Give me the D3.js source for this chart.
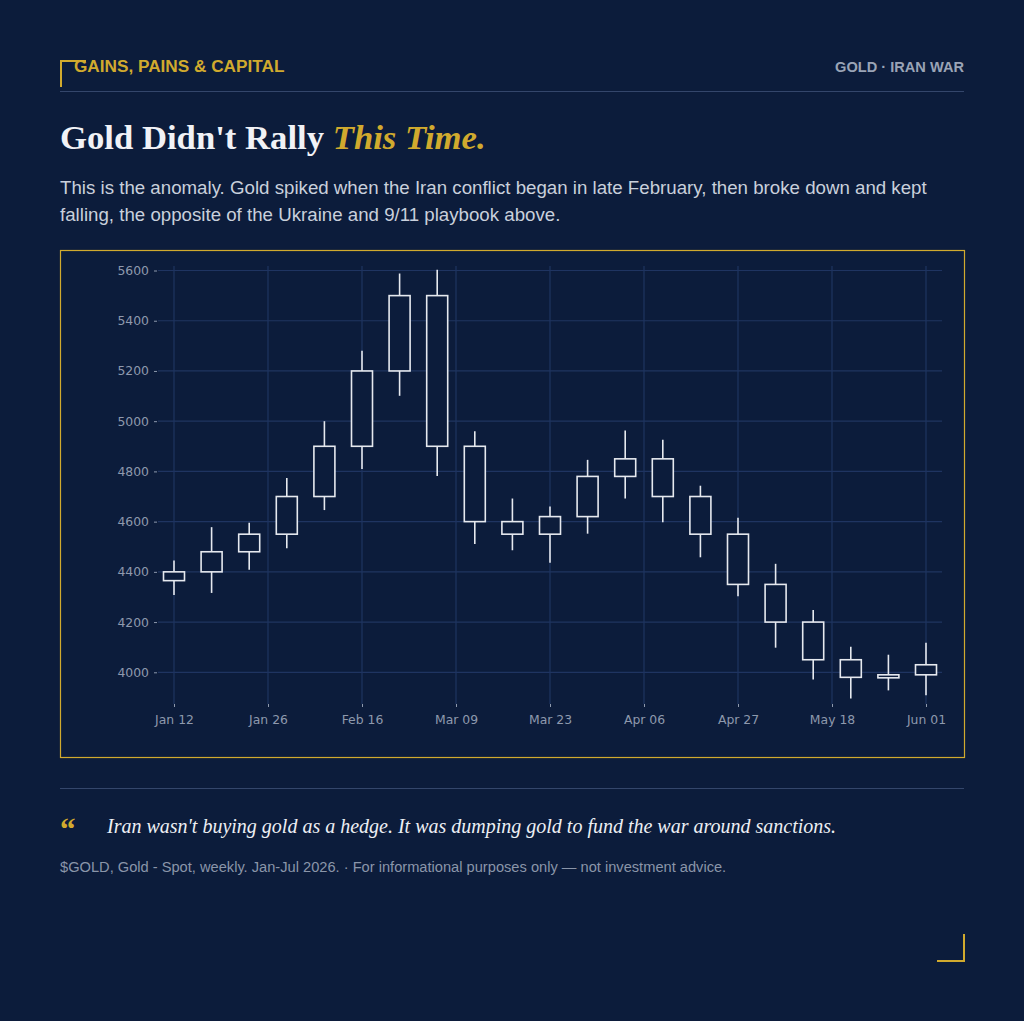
<!DOCTYPE html>
<html>
<head>
<meta charset="utf-8">
<script src="https://cdn.jsdelivr.net/npm/d3@7"></script>
<style>
  html, body { margin: 0; padding: 0; background: #0c1c3b; }
  svg { display: block; }
</style>
</head>
<body>
<svg id="chart" width="1024" height="1021"></svg>
<script>
// weekly candles, $GOLD spot
var opens  = [4365, 4400, 4480, 4550, 4700, 4900, 5200, 5500, 4900, 4600, 4550, 4620, 4780, 4850, 4700, 4550, 4350, 4200, 4050, 3978, 3990];
var closes = [4400, 4480, 4550, 4700, 4900, 5200, 5500, 4900, 4600, 4550, 4620, 4780, 4850, 4700, 4550, 4350, 4200, 4050, 3980, 3990, 4030];
var highs  = [4445, 4578, 4596, 4774, 5000, 5280, 5588, 5603, 4960, 4692, 4660, 4846, 4963, 4926, 4743, 4615, 4432, 4248, 4102, 4070, 4118];
var lows   = [4308, 4316, 4408, 4494, 4646, 4810, 5101, 4782, 4511, 4486, 4436, 4552, 4692, 4598, 4458, 4303, 4098, 3971, 3896, 3928, 3909];

var xTickPos    = [0, 2.5, 5, 7.5, 10, 12.5, 15, 17.5, 20];
var xTickLabels = ["Jan 12","Jan 26","Feb 16","Mar 09","Mar 23","Apr 06","Apr 27","May 18","Jun 01"];
var yTicks      = [4000, 4200, 4400, 4600, 4800, 5000, 5200, 5400, 5600];

var gold = "#d1aa2e", bg = "#0c1c3b", grid = "#1f3461", candle = "#e6e9ef";

var svg = d3.select("#chart");
svg.append("rect").attr("width", 1024).attr("height", 1021).attr("fill", bg);

// header
svg.append("path").attr("d", "M61,87V61H86").attr("fill", "none").attr("stroke", gold).attr("stroke-width", 2);
svg.append("text").attr("x", 74).attr("y", 72)
  .style("font", "bold 17.2px 'Liberation Sans', Arial, sans-serif").attr("fill", gold)
  .text("GAINS, PAINS & CAPITAL");
svg.append("text").attr("x", 964).attr("y", 72).attr("text-anchor", "end")
  .style("font", "bold 14.6px 'Liberation Sans', Arial, sans-serif").attr("fill", "#9aa4b6")
  .text("GOLD \u00b7 IRAN WAR");
svg.append("line").attr("x1", 60).attr("x2", 964).attr("y1", 91.5).attr("y2", 91.5)
  .attr("stroke", "#34466b").attr("stroke-width", 1);

// title
var title = svg.append("text").attr("x", 60).attr("y", 149)
  .style("font", "bold 34.7px 'Liberation Serif', 'Times New Roman', serif");
title.append("tspan").attr("fill", "#f1f2f6").text("Gold Didn't Rally ");
title.append("tspan").attr("fill", gold).style("font-style", "italic").text("This Time.");

var sub = ["This is the anomaly. Gold spiked when the Iran conflict began in late February, then broke down and kept",
           "falling, the opposite of the Ukraine and 9/11 playbook above."];
svg.selectAll("text.sub").data(sub).enter().append("text").attr("class", "sub")
  .attr("x", 60).attr("y", function(d, i){ return 194 + i * 27; })
  .style("font", "18.7px 'Liberation Sans', Arial, sans-serif").attr("fill", "#c9d0dc")
  .text(function(d){ return d; });

// chart frame
svg.append("rect").attr("x", 60.5).attr("y", 250.5).attr("width", 904).attr("height", 507)
  .attr("fill", "none").attr("stroke", gold).attr("stroke-width", 1.2);

var plotL = 158, plotR = 942, plotT = 266, plotB = 704;
var x = d3.scaleLinear().domain([0, 20]).range([174, 926]);
var y = d3.scaleLinear().domain([4000, 5600]).range([672.3, 270.5]);

var g = svg.append("g");
// gridlines
g.selectAll("line.hg").data(yTicks).enter().append("line").attr("class", "hg")
  .attr("x1", plotL).attr("x2", plotR)
  .attr("y1", function(d){ return y(d); }).attr("y2", function(d){ return y(d); })
  .attr("stroke", grid).attr("stroke-width", 1.2);
g.selectAll("line.vg").data(xTickPos).enter().append("line").attr("class", "vg")
  .attr("y1", plotT).attr("y2", plotB)
  .attr("x1", function(d){ return x(d); }).attr("x2", function(d){ return x(d); })
  .attr("stroke", grid).attr("stroke-width", 1.2);

// axes
var yAxis = d3.axisLeft(y).tickValues(yTicks).tickSize(3).tickPadding(5).tickFormat(d3.format("d"));
var ya = svg.append("g").attr("transform", "translate(" + (plotL - 1) + ",0)").call(yAxis);
var xAxis = d3.axisBottom(x).tickValues(xTickPos).tickSize(3).tickPadding(8)
  .tickFormat(function(d, i){ return xTickLabels[i]; });
var xa = svg.append("g").attr("transform", "translate(0," + plotB + ")").call(xAxis);
[ya, xa].forEach(function(a){
  a.select(".domain").remove();
  a.selectAll(".tick line").attr("stroke", "#8e99ad").attr("stroke-width", 1);
  a.selectAll(".tick text").attr("fill", "#8e99ad")
    .style("font", "12.4px 'DejaVu Sans', sans-serif");
});

// candles
var idx = d3.range(opens.length);
var bw = 21;
var c = svg.append("g").selectAll("g.candle").data(idx).enter().append("g").attr("class", "candle");
c.append("line")
  .attr("x1", function(i){ return x(i); }).attr("x2", function(i){ return x(i); })
  .attr("y1", function(i){ return y(highs[i]); }).attr("y2", function(i){ return y(lows[i]); })
  .attr("stroke", candle).attr("stroke-width", 1.6);
c.append("rect")
  .attr("x", function(i){ return x(i) - bw / 2; })
  .attr("width", bw)
  .attr("y", function(i){ return y(Math.max(opens[i], closes[i])); })
  .attr("height", function(i){ return Math.max(1, Math.abs(y(opens[i]) - y(closes[i]))); })
  .attr("fill", bg).attr("stroke", candle).attr("stroke-width", 1.6);

// footer
svg.append("line").attr("x1", 60).attr("x2", 964).attr("y1", 788.5).attr("y2", 788.5)
  .attr("stroke", "#34466b").attr("stroke-width", 1);
svg.append("text").attr("x", 60).attr("y", 840)
  .style("font", "bold 31px 'Liberation Serif', serif").attr("fill", gold).text("\u201c");
svg.append("text").attr("x", 107).attr("y", 833)
  .style("font", "italic 20px 'Liberation Serif', 'Times New Roman', serif").attr("fill", "#eceff4")
  .text("Iran wasn't buying gold as a hedge. It was dumping gold to fund the war around sanctions.");
svg.append("text").attr("x", 60).attr("y", 872)
  .style("font", "14.65px 'Liberation Sans', Arial, sans-serif").attr("fill", "#8a95a9")
  .text("$GOLD, Gold - Spot, weekly. Jan-Jul 2026. \u00b7 For informational purposes only \u2014 not investment advice.");

svg.append("path").attr("d", "M937,961H964V934").attr("fill", "none").attr("stroke", gold).attr("stroke-width", 2);
</script>
</body>
</html>
